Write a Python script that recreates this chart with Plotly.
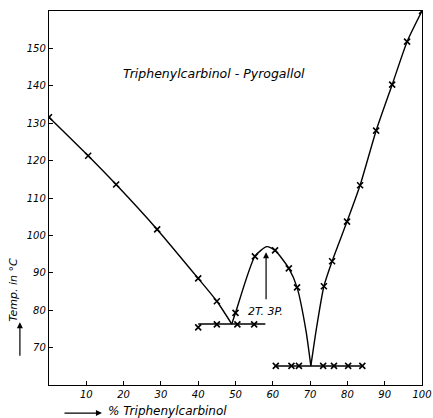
import plotly.graph_objects as go

# Measured points (x = % triphenylcarbinol, y = temperature °C)
left_x = [0, 10.5, 18, 29, 40, 45]
left_y = [131.6, 121.3, 113.6, 101.6, 88.5, 82.4]

dome_x = [50, 55.2, 60.6, 64.3, 66.5]
dome_y = [79.3, 94.4, 96.0, 91.2, 86.1]

right_x = [73.7, 75.9, 79.9, 83.4, 87.7, 92, 96, 100]
right_y = [86.4, 93.1, 103.7, 113.4, 128, 140.3, 151.8, 160]

eut1_x = [40, 45, 50.5, 55]
eut1_y = [75.4, 76.2, 76.2, 76.2]

eut2_x = [60.8, 65, 67, 73.5, 76.4, 80.2, 84]
eut2_y = [65.1, 65.1, 65.1, 65.1, 65.1, 65.1, 65.1]

# Curve paths as drawn in the figure
curve_left_x = [0, 10.5, 18, 29, 40, 45, 49]
curve_left_y = [131.6, 121.3, 113.6, 101.6, 88.5, 82.4, 76.3]

curve_dome_x = [49, 50, 55.2, 58.4, 60.6, 64.3, 66.5, 68.9, 70.2]
curve_dome_y = [76.3, 79.3, 94.4, 97.0, 96.0, 91.2, 86.1, 74.5, 65.1]

curve_right_x = [70.2, 71.6, 73.7, 75.9, 79.9, 83.4, 87.7, 92, 96, 100]
curve_right_y = [65.1, 74.5, 86.4, 93.1, 103.7, 113.4, 128, 140.3, 151.8, 160]

hline1_x = [40, 58]
hline1_y = [76.3, 76.3]
hline2_x = [60.8, 84]
hline2_y = [65.1, 65.1]

x_ticks = [10, 20, 30, 40, 50, 60, 70, 80, 90, 100]
y_ticks = [70, 80, 90, 100, 110, 120, 130, 140, 150]

fig = go.Figure()
for cx, cy, shape in [(curve_left_x, curve_left_y, "spline"),
                      (curve_dome_x, curve_dome_y, "spline"),
                      (curve_right_x, curve_right_y, "spline"),
                      (hline1_x, hline1_y, "linear"),
                      (hline2_x, hline2_y, "linear")]:
    fig.add_trace(go.Scatter(x=cx, y=cy, mode="lines",
                             line=dict(color="black", width=1.4, shape=shape, smoothing=0.6),
                             hoverinfo="skip", showlegend=False))

for mx, my in [(left_x, left_y), (dome_x, dome_y), (right_x, right_y),
               (eut1_x, eut1_y), (eut2_x, eut2_y)]:
    fig.add_trace(go.Scatter(x=mx, y=my, mode="markers",
                             marker=dict(symbol="x-thin", size=6,
                                         line=dict(color="black", width=1.6)),
                             showlegend=False))

font_it = "DejaVu Sans"
fig.update_layout(
    width=433, height=418,
    margin=dict(l=49, r=11, t=11, b=33, autoexpand=False),
    paper_bgcolor="white", plot_bgcolor="white",
    xaxis=dict(range=[0, 100], tickvals=x_ticks, ticktext=[f"<i>{v}</i>" for v in x_ticks],
               ticks="inside", ticklen=4, tickcolor="black", showgrid=False, zeroline=False,
               showline=True, linecolor="black", linewidth=1.4, mirror=True, automargin=False,
               tickfont=dict(family=font_it, size=10, color="black")),
    yaxis=dict(range=[60, 160], tickvals=y_ticks, ticktext=[f"<i>{v}</i>" for v in y_ticks],
               ticks="inside", ticklen=4, tickcolor="black", showgrid=False, zeroline=False,
               showline=True, linecolor="black", linewidth=1.4, mirror=True, automargin=False,
               tickfont=dict(family=font_it, size=10, color="black")),
    font=dict(family=font_it, color="black"),
)

annotations = [
    dict(x=44.3, y=143.4, xref="x", yref="y", text="<i>Triphenylcarbinol - Pyrogallol</i>",
         showarrow=False, font=dict(size=12.5, family=font_it)),
    dict(x=58.0, y=79.7, xref="x", yref="y", text="<i>2T. 3P.</i>",
         showarrow=False, font=dict(size=11, family=font_it)),
    dict(x=58.2, y=95.5, xref="x", yref="y", ax=58.2, ay=82.5, axref="x", ayref="y",
         text="", showarrow=True, arrowhead=2, arrowsize=1, arrowwidth=1.2, arrowcolor="black"),
    dict(x=-0.097, y=0.254, xref="paper", yref="paper", text="<i>Temp. in °C</i>",
         xanchor="center", yanchor="middle",
         textangle=-90, showarrow=False, font=dict(size=11, family=font_it)),
    dict(x=-0.078, y=0.168, xref="paper", yref="paper", ax=0, ay=35,
         text="", showarrow=True, arrowhead=2, arrowwidth=1.2, arrowcolor="black"),
    dict(x=0.319, y=-0.0695, xref="paper", yref="paper", text="<i>% Triphenylcarbinol</i>",
         xanchor="center", yanchor="middle",
         showarrow=False, font=dict(size=12, family=font_it)),
    dict(x=0.142, y=-0.075, xref="paper", yref="paper", ax=-39, ay=0,
         text="", showarrow=True, arrowhead=2, arrowwidth=1.2, arrowcolor="black"),
]
fig.update_layout(annotations=annotations)

fig.write_html("out.html", config={"displayModeBar": False},
               post_script="document.body.style.margin='0';document.body.style.overflow='hidden';")
